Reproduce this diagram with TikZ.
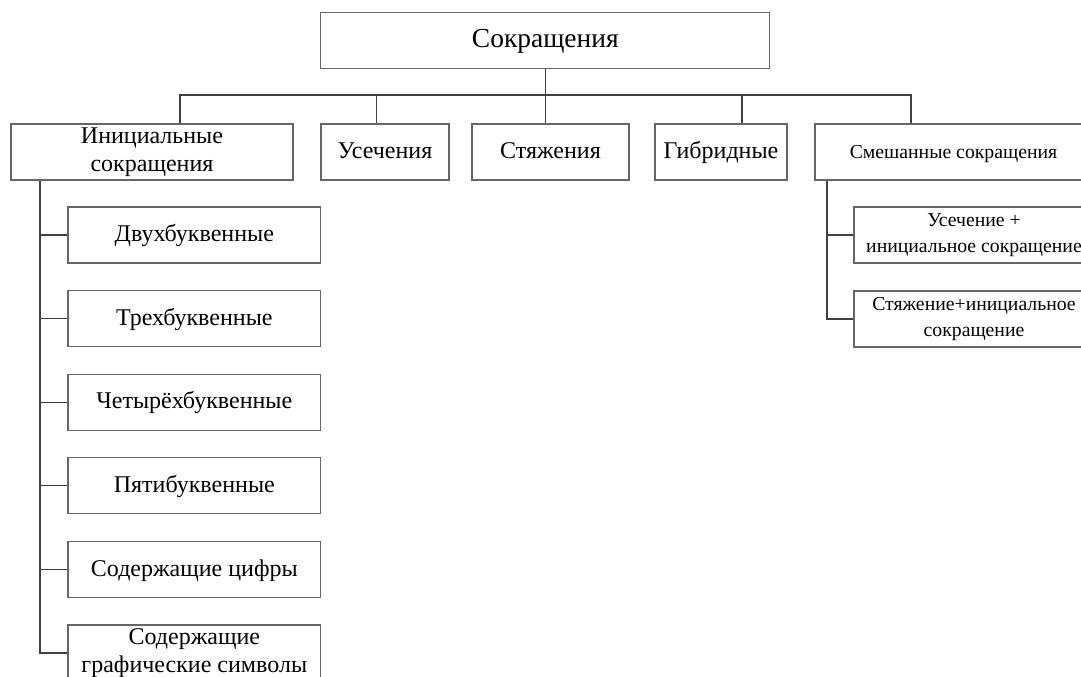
\documentclass[tikz,border=0pt]{standalone}
\usepackage{fontspec}
\setmainfont{Liberation Serif}
\usetikzlibrary{positioning}
\tikzset{
box/.style = { rectangle, draw = black!60, line width = 0.9pt, fill = white, minimum height = 42pt, inner sep = 1pt, align = center },
one/.style = { text height = 12pt, text depth = 2pt },
link/.style = { draw = black!75, line width = 0.8pt },
}
\begin{document}
\begin{tikzpicture}[x=0.75pt, y=-0.75pt]
    \clip (0,0) rectangle (1081,676);
    \fill[white] (0,0) rectangle (1081,676);
    % top level
    \node[box, one, minimum width = 336.75pt, font = \fontsize{20.6}{24}\selectfont] (top) at (545.3,40.5) {Сокращения};
    \begin{scope}[every node/.style={font = \fontsize{18}{20.8}\selectfont}]
      \node[box, minimum width = 211.5pt] (ini) at (152,152) {Инициальные\\сокращения};
      \node[box, one, minimum width = 96pt] (use) at (385,152) {Усечения};
      \node[box, one, minimum width = 117.75pt] (stj) at (550.5,152) {Стяжения};
      \node[box, one, minimum width = 99pt] (gib) at (721,152) {Гибридные};
    \end{scope}
    \node[box, one, minimum width = 207.75pt, font = \fontsize{14.8}{18}\selectfont] (sme) at (953.5,152) {Смешанные сокращения};
    % initial abbreviations
    \begin{scope}[every node/.style={font = \fontsize{18}{20.8}\selectfont}]
      \node[box, one, minimum width = 189.5pt] (b2) at (194.3,235) {Двухбуквенные};
      \node[box, one, minimum width = 189.5pt] (b3) at (194.3,318.6) {Трехбуквенные};
      \node[box, one, minimum width = 189.5pt] (b4) at (194.3,402.2) {Четырёхбуквенные};
      \node[box, one, minimum width = 189.5pt] (b5) at (194.3,485.8) {Пятибуквенные};
      \node[box, one, minimum width = 189.5pt] (dig) at (194.3,569.4) {Содержащие цифры};
      \node[box, minimum width = 189.5pt] (sym) at (194.3,653) {Содержащие\\графические символы};
    \end{scope}
    % mixed abbreviations
    \begin{scope}[every node/.style={font = \fontsize{14.8}{20}\selectfont}]
      \node[box, minimum width = 180pt] (mu) at (974,235) {Усечение +\\инициальное сокращение};
      \node[box, minimum width = 180pt] (ms) at (974,319) {Стяжение+инициальное\\сокращение};
    \end{scope}
    % bus
    \coordinate (c1) at (180,95);
    \coordinate (c2) at (376.7,95);
    \coordinate (c3) at (545.7,95);
    \coordinate (c4) at (742,95);
    \coordinate (c5) at (911,95);
    \coordinate (tl) at (40,180);
    \coordinate (tr) at (827,180);
    \begin{scope}[every path/.style={link}]
      \draw (top.south -| c3) -- (c3);
      \draw (c1 |- ini.north) -- (c1) -- (c5) -- (c5 |- sme.north);
      \draw (c2) -- (c2 |- use.north);
      \draw (c3) -- (c3 |- stj.north);
      \draw (c4) -- (c4 |- gib.north);
      \draw (tl |- ini.south) -- (tl |- sym.west) -- (sym.west);
      \foreach \k in {b2, b3, b4, b5, dig}
        \draw (tl |- \k.west) -- (\k.west);
      \draw (tr |- sme.south) -- (tr |- ms.west) -- (ms.west);
      \draw (tr |- mu.west) -- (mu.west);
    \end{scope}
\end{tikzpicture}
\end{document}
